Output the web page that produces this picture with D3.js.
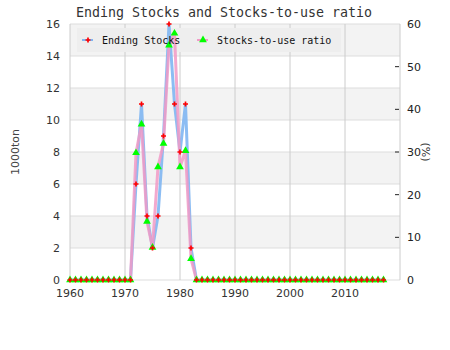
<!DOCTYPE html>
<html>
<head>
<meta charset="utf-8">
<script src="https://cdn.jsdelivr.net/npm/d3@7"></script>
<style>
    body { margin: 0; background: #fff; }
    svg { display: block; }
</style>
</head>
<body>
<svg id="chart" width="450" height="350"></svg>
<script>
(function () {
    "use strict";

    var years = [
        1960, 1961, 1962, 1963, 1964, 1965, 1966, 1967, 1968, 1969,
        1970, 1971, 1972, 1973, 1974, 1975, 1976, 1977, 1978, 1979,
        1980, 1981, 1982, 1983, 1984, 1985, 1986, 1987, 1988, 1989,
        1990, 1991, 1992, 1993, 1994, 1995, 1996, 1997, 1998, 1999,
        2000, 2001, 2002, 2003, 2004, 2005, 2006, 2007, 2008, 2009,
        2010, 2011, 2012, 2013, 2014, 2015, 2016, 2017
    ];
    // 1000ton
    var endingStocks = [
        0, 0, 0, 0, 0, 0, 0, 0, 0, 0,
        0, 0, 6, 11, 4, 2, 4, 9, 16, 11,
        8, 11, 2, 0, 0, 0, 0, 0, 0, 0,
        0, 0, 0, 0, 0, 0, 0, 0, 0, 0,
        0, 0, 0, 0, 0, 0, 0, 0, 0, 0,
        0, 0, 0, 0, 0, 0, 0, 0
    ];
    // %
    var stocksToUse = [
        0, 0, 0, 0, 0, 0, 0, 0, 0, 0,
        0, 0, 29.8, 36.5, 13.7, 7.6, 26.5, 32, 55, 57.8,
        26.5, 30.3, 5, 0, 0, 0, 0, 0, 0, 0,
        0, 0, 0, 0, 0, 0, 0, 0, 0, 0,
        0, 0, 0, 0, 0, 0, 0, 0, 0, 0,
        0, 0, 0, 0, 0, 0, 0, 0
    ];
    var leftTicks = [0, 2, 4, 6, 8, 10, 12, 14, 16];
    var rightTicks = [0, 10, 20, 30, 40, 50, 60];
    var xTicks = [1960, 1970, 1980, 1990, 2000, 2010];

    var left = 70, right = 400, top = 24, bottom = 280;
    var svg = d3.select("#chart");

    var x = d3.scaleLinear().domain([1960, 2020]).range([left, right]);
    var yL = d3.scaleLinear().domain([0, 16]).range([bottom, top]);
    var yR = d3.scaleLinear().domain([0, 60]).range([bottom, top]);

    var sans = "DejaVu Sans, sans-serif";
    var mono = "DejaVu Sans Mono, monospace";

    // bands
    svg.append("g").selectAll("rect")
        .data(leftTicks.slice(0, -1))
        .enter().append("rect")
        .attr("x", left)
        .attr("width", right - left)
        .attr("y", function (d) { return yL(d + 2); })
        .attr("height", function (d) { return yL(d) - yL(d + 2); })
        .attr("fill", function (d, i) { return i % 2 ? "#f3f3f3" : "#ffffff"; });

    // grid
    svg.append("g").selectAll("line")
        .data(leftTicks)
        .enter().append("line")
        .attr("x1", left).attr("x2", right)
        .attr("y1", function (d) { return yL(d); })
        .attr("y2", function (d) { return yL(d); })
        .attr("stroke", "#dddddd");
    svg.append("g").selectAll("line")
        .data(xTicks)
        .enter().append("line")
        .attr("x1", function (d) { return x(d); })
        .attr("x2", function (d) { return x(d); })
        .attr("y1", top).attr("y2", bottom)
        .attr("stroke", "#cccccc");
    svg.append("line")
        .attr("x1", right).attr("x2", right)
        .attr("y1", top).attr("y2", bottom)
        .attr("stroke", "#cccccc");

    // axes text
    svg.append("g").selectAll("text")
        .data(leftTicks)
        .enter().append("text")
        .attr("x", left - 10)
        .attr("y", function (d) { return yL(d) + 4; })
        .attr("text-anchor", "end")
        .attr("font-family", sans).attr("font-size", 11).attr("fill", "#333")
        .text(function (d) { return d; });

    svg.append("g").selectAll("line")
        .data(rightTicks.slice(1, -1))
        .enter().append("line")
        .attr("x1", right - 5).attr("x2", right - 1)
        .attr("y1", function (d) { return yR(d); })
        .attr("y2", function (d) { return yR(d); })
        .attr("stroke", "#222");
    svg.append("g").selectAll("text")
        .data(rightTicks)
        .enter().append("text")
        .attr("x", right + 7)
        .attr("y", function (d) { return yR(d) + 4; })
        .attr("font-family", sans).attr("font-size", 11).attr("fill", "#222")
        .text(function (d) { return d; });

    svg.append("g").selectAll("text")
        .data(xTicks)
        .enter().append("text")
        .attr("x", function (d) { return x(d); })
        .attr("y", bottom + 17)
        .attr("text-anchor", "middle")
        .attr("font-family", sans).attr("font-size", 11).attr("fill", "#333")
        .text(function (d) { return d; });

    svg.append("text")
        .attr("transform", "translate(19," + (top + bottom) / 2 + ") rotate(-90)")
        .attr("text-anchor", "middle")
        .attr("font-family", sans).attr("font-size", 11).attr("fill", "#444")
        .text("1000ton");
    svg.append("text")
        .attr("transform", "translate(422," + (top + bottom) / 2 + ") rotate(90)")
        .attr("text-anchor", "middle")
        .attr("font-family", sans).attr("font-size", 11).attr("fill", "#333")
        .text("(%)");

    // title
    svg.append("text")
        .attr("x", 224).attr("y", 17)
        .attr("text-anchor", "middle")
        .attr("font-family", mono).attr("font-size", 13.3).attr("fill", "#333")
        .text("Ending Stocks and Stocks-to-use ratio");

    // legend box
    svg.append("rect")
        .attr("x", 77).attr("y", 28).attr("width", 264).attr("height", 24)
        .attr("fill", "#eeeeee");

    // lines
    svg.append("clipPath").attr("id", "plot")
        .append("rect").attr("x", left).attr("y", top - 4)
        .attr("width", right - left).attr("height", bottom - top + 4);

    var lineL = d3.line()
        .x(function (d, i) { return x(years[i]); })
        .y(function (d) { return yL(d); });
    var lineR = d3.line()
        .x(function (d, i) { return x(years[i]); })
        .y(function (d) { return yR(d); });

    var lines = svg.append("g").attr("clip-path", "url(#plot)");
    lines.append("path")
        .attr("d", lineL(endingStocks))
        .attr("fill", "none").attr("stroke", "#7fb6f2")
        .attr("stroke-width", 3).attr("stroke-opacity", 0.9);
    lines.append("path")
        .attr("d", lineR(stocksToUse))
        .attr("fill", "none").attr("stroke", "#f19ac6")
        .attr("stroke-width", 3).attr("stroke-opacity", 0.85);

    var plus = d3.symbol().type(d3.symbolCross).size(14);
    var tri = d3.symbol().type(d3.symbolTriangle).size(26);

    svg.append("g").selectAll("path")
        .data(stocksToUse)
        .enter().append("path")
        .attr("d", tri)
        .attr("transform", function (d, i) { return "translate(" + x(years[i]) + "," + yR(d) + ")"; })
        .attr("fill", "#00ff00");
    svg.append("g").selectAll("path")
        .data(endingStocks)
        .enter().append("path")
        .attr("d", plus)
        .attr("transform", function (d, i) { return "translate(" + x(years[i]) + "," + yL(d) + ")"; })
        .attr("fill", "#ff0000");

    // legend items
    var legend = [
        { label: "Ending Stocks", color: "#7fb6f2", symbol: plus, fill: "#ff0000", x: 82 },
        { label: "Stocks-to-use ratio", color: "#f19ac6", symbol: tri, fill: "#00ff00", x: 197 }
    ];
    var li = svg.append("g").selectAll("g")
        .data(legend)
        .enter().append("g")
        .attr("transform", function (d) { return "translate(" + d.x + ",40)"; });
    li.append("line")
        .attr("x1", 0).attr("x2", 11)
        .attr("stroke", function (d) { return d.color; }).attr("stroke-width", 2);
    li.append("path")
        .attr("d", function (d) { return d.symbol(); })
        .attr("transform", "translate(6,0)")
        .attr("fill", function (d) { return d.fill; });
    li.append("text")
        .attr("x", 20).attr("y", 4)
        .attr("font-family", mono).attr("font-size", 10).attr("fill", "#111")
        .text(function (d) { return d.label; });
})();
</script>
</body>
</html>
